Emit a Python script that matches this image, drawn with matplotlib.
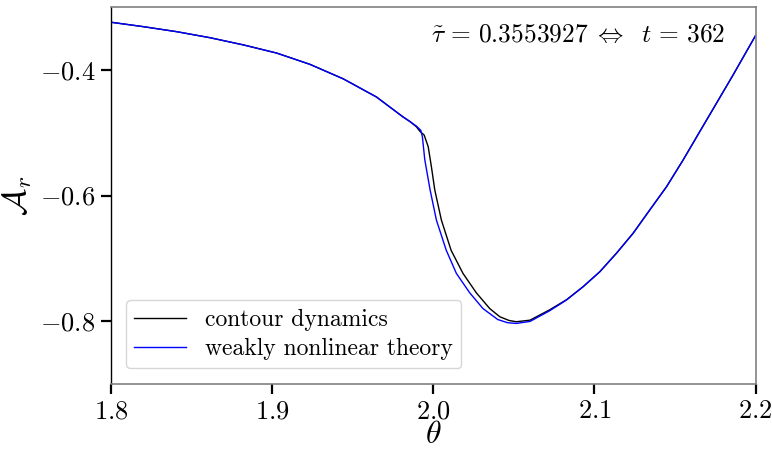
import numpy as np
import matplotlib
matplotlib.use("Agg")
import matplotlib.pyplot as plt

plt.rcParams['mathtext.fontset'] = 'cm'
plt.rcParams['font.family'] = 'serif'
plt.rcParams['font.serif'] = ['cmr10']
plt.rcParams['axes.formatter.use_mathtext'] = True

# shared smooth branch away from the front
theta_left = [1.800, 1.820, 1.8407, 1.8614, 1.882, 1.9027, 1.9234, 1.944, 1.9647, 1.981, 1.9854]
A_left = [-0.324, -0.331, -0.339, -0.3486, -0.360, -0.373, -0.391, -0.414, -0.443, -0.4744, -0.482]
theta_right = [2.0929, 2.1033, 2.1136, 2.1240, 2.1343, 2.1447, 2.1550, 2.1653, 2.1757, 2.1860, 2.2000]
A_right = [-0.7453, -0.7214, -0.692, -0.660, -0.623, -0.586, -0.5434, -0.4983, -0.453, -0.408, -0.345]

# contour dynamics solution near the front
theta_cd_mid = [1.9895, 1.9916, 1.9943, 1.9968, 1.9988, 2.0009, 2.0050, 2.0110, 2.0184, 2.0267,
                2.0350, 2.0412, 2.0470, 2.0515, 2.0600, 2.0722, 2.0826]
A_cd_mid = [-0.4905, -0.4975, -0.5036, -0.522, -0.554, -0.591, -0.639, -0.687, -0.724, -0.755,
            -0.780, -0.7930, -0.7990, -0.8010, -0.7985, -0.7820, -0.7660]

# weakly nonlinear theory near the front
theta_wn_mid = [1.9895, 1.9922, 1.9932, 1.9947, 1.9980, 2.0019, 2.0080, 2.0143, 2.0226, 2.0308,
                2.0400, 2.0460, 2.0515, 2.0600, 2.0722, 2.0826]
A_wn_mid = [-0.4895, -0.4960, -0.506, -0.543, -0.591, -0.639, -0.687, -0.724, -0.755, -0.780,
            -0.7975, -0.8025, -0.8037, -0.8005, -0.7835, -0.7665]

theta_cd = theta_left + theta_cd_mid + theta_right
A_cd = A_left + A_cd_mid + A_right
theta_wn = theta_left + theta_wn_mid + theta_right
A_wn = A_left + A_wn_mid + A_right

fig = plt.figure(figsize=(7.72, 4.49), dpi=100)
ax = fig.add_axes([0.1438, 0.145, 0.835, 0.839])

ax.plot(theta_cd, A_cd, color='black', lw=1.0, label='contour dynamics')
ax.plot(theta_wn, A_wn, color='blue', lw=1.0, label='weakly nonlinear theory')

ax.set_xlim(1.8, 2.2)
ax.set_ylim(-0.9, -0.3)
ax.set_xticks([1.8, 1.9, 2.0, 2.1, 2.2])
ax.set_yticks([-0.8, -0.6, -0.4])
ax.tick_params(axis='both', which='major', labelsize=19, length=7.2, width=1.6,
               direction='out', pad=4)

for side in ['top', 'right', 'bottom']:
    ax.spines[side].set_color('0.5')
    ax.spines[side].set_linewidth(1.2)
ax.spines['left'].set_color('black')
ax.spines['left'].set_linewidth(1.0)

ax.set_xlabel(r'$\theta$', fontsize=23)
ax.xaxis.set_label_coords(0.5, -0.1)
ax.set_ylabel(r'$\mathcal{A}_r$', fontsize=24, labelpad=4)

ax.text(0.952, 0.925, r'$\tilde{\tau}\,=\,0.3553927\;\Leftrightarrow\;\ t\,=\,362$',
        transform=ax.transAxes, ha='right', va='center', fontsize=18.3)

ax.legend(loc='lower left', fontsize=17, frameon=True, handlelength=2.2,
          borderpad=0.35, labelspacing=0.3, bbox_to_anchor=(0.005, 0.01))

fig.savefig('out.png', dpi=100)
